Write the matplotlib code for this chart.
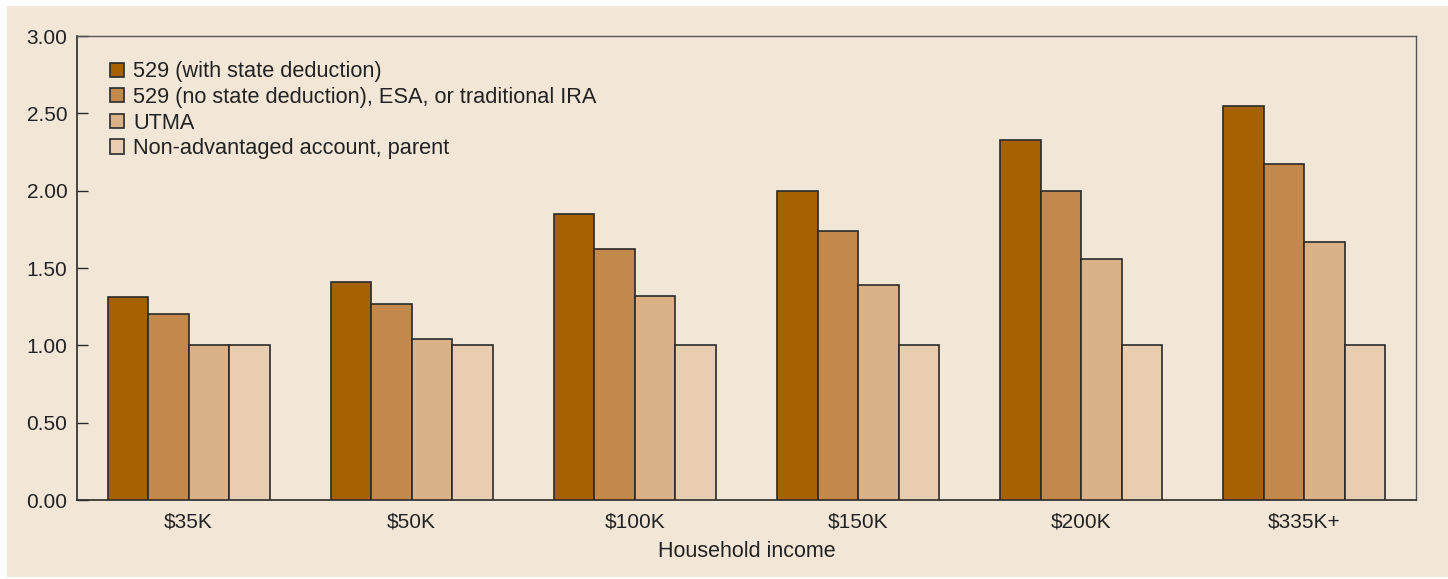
import numpy as np
import matplotlib
matplotlib.use("Agg")
import matplotlib.pyplot as plt
from matplotlib.patches import Rectangle

# data
incomes = ["$35K", "$50K", "$100K", "$150K", "$200K", "$335K+"]
series_names = ["529 (with state deduction)",
                "529 (no state deduction), ESA, or traditional IRA",
                "UTMA",
                "Non-advantaged account, parent"]
with_deduction = [1.31, 1.41, 1.85, 2.00, 2.33, 2.55]
no_deduction = [1.20, 1.27, 1.62, 1.74, 2.00, 2.17]
utma = [1.00, 1.04, 1.32, 1.39, 1.56, 1.67]
parent = [1.00, 1.00, 1.00, 1.00, 1.00, 1.00]
yticks = [0.0, 0.5, 1.0, 1.5, 2.0, 2.5, 3.0]

colors = ["#A66103", "#C3884C", "#DBB288", "#E8CDB1"]
bg = "#F2E6D7"
edge = "#2a2a2a"

plt.rcParams['font.family'] = ['Liberation Sans', 'DejaVu Sans']

fig = plt.figure(figsize=(14.48, 5.79), dpi=100, facecolor="white")
# beige panel with thin white margin on left/top
panel = Rectangle((7 / 1448, 2 / 579), 1 - 7 / 1448, 571 / 579,
                  transform=fig.transFigure, facecolor=bg,
                  edgecolor="none", zorder=-10)
fig.add_artist(panel)
ax = fig.add_axes([77 / 1448, 79 / 579, 1339 / 1448, 464 / 579])
ax.set_facecolor(bg)
ax.set_zorder(1)

x = np.arange(len(incomes))
w = 0.1816
all_series = [with_deduction, no_deduction, utma, parent]
for i, vals in enumerate(all_series):
    ax.bar(x + (i - 1.5) * w, vals, width=w, color=colors[i],
           edgecolor=edge, linewidth=1.2, label=series_names[i], zorder=3)

ax.set_xlim(-0.5, len(incomes) - 0.5)
ax.set_ylim(0, 3.0)
ax.set_yticks(yticks)
ax.set_yticklabels(["%.2f" % t for t in yticks])
ax.set_xticks(x)
ax.set_xticklabels(incomes)
ax.tick_params(axis="y", direction="in", length=8, width=1, color=edge,
               labelsize=15, labelcolor="#222222", pad=7)
ax.tick_params(axis="x", length=0, labelsize=15, labelcolor="#222222", pad=9)
ax.set_xlabel("Household income", fontsize=15.5, color="#222222", labelpad=7)

for s in ["left", "bottom"]:
    ax.spines[s].set_color(edge)
    ax.spines[s].set_linewidth(1.2)
for s in ["top", "right"]:
    ax.spines[s].set_color("#555555")
    ax.spines[s].set_linewidth(1.0)

leg = ax.legend(loc="upper left", bbox_to_anchor=(0.0183, 0.964), frameon=False,
                fontsize=15.7, handlelength=0.62, handleheight=0.62,
                handletextpad=0.42, labelspacing=0.21, borderaxespad=0)
for t in leg.get_texts():
    t.set_color("#222222")

fig.savefig("out.png", dpi=100, facecolor="white")
